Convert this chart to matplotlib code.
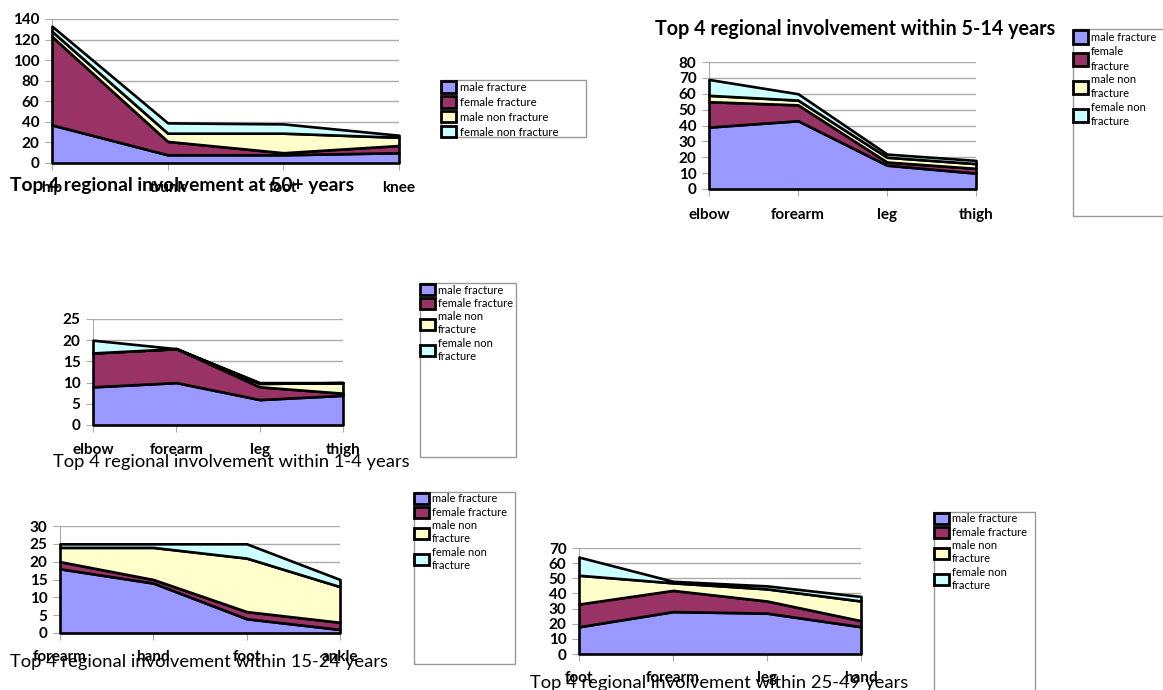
import matplotlib
matplotlib.use("Agg")
import matplotlib.pyplot as plt
from matplotlib.patches import Patch, Rectangle

plt.rcParams['font.family'] = ['Lato', 'DejaVu Sans']

W, H = 1163, 690

# data
series_names = ['male fracture', 'female fracture', 'male non fracture', 'female non fracture']
colors = ['#9999ff', '#993366', '#ffffcc', '#ccffff']

cats_50 = ['hip', 'trunk', 'foot', 'knee']
male_frac_50 = [37, 8, 8, 10]
female_frac_50 = [86, 13, 2, 7]
male_non_50 = [5, 8, 19, 8]
female_non_50 = [5, 10, 9, 2]

cats_5_14 = ['elbow', 'forearm', 'leg', 'thigh']
male_frac_5_14 = [39, 43, 15, 10]
female_frac_5_14 = [16, 10, 2, 3]
male_non_5_14 = [4, 3, 3, 3]
female_non_5_14 = [10, 4, 2, 2]

cats_1_4 = ['elbow', 'forearm', 'leg', 'thigh']
male_frac_1_4 = [9, 10, 6, 7]
female_frac_1_4 = [8, 8, 3, 0.5]
male_non_1_4 = [0, 0, 0.8, 2.5]
female_non_1_4 = [3, 0, 0.2, 0]

cats_15_24 = ['forearm', 'hand', 'foot', 'ankle']
male_frac_15_24 = [18, 14, 4, 1]
female_frac_15_24 = [2, 1, 2, 2]
male_non_15_24 = [4, 9, 15, 10]
female_non_15_24 = [1, 1, 4, 2]

cats_25_49 = ['foot', 'forearm', 'leg', 'hand']
male_frac_25_49 = [18, 28, 27, 18]
female_frac_25_49 = [15, 14, 8, 4]
male_non_25_49 = [19, 5, 8, 13]
female_non_25_49 = [12, 1, 2, 3]

fig = plt.figure(figsize=(W / 100, H / 100), dpi=100)


def fx(x):
    return x / W


def fy(y):
    return 1 - y / H


def panel(box, cats, data, ymax, ystep, xpad):
    x0, y0, x1, y1 = box
    ax = fig.add_axes([fx(x0), fy(y1), fx(x1 - x0), (y1 - y0) / H])
    xs = range(len(cats))
    ax.stackplot(xs, *data, colors=colors, edgecolor='black', linewidth=1.9,
                 clip_on=False, zorder=3)
    ax.set_xlim(0, len(cats) - 1)
    ax.set_ylim(0, ymax)
    ax.set_yticks(range(0, ymax + 1, ystep))
    ax.set_xticks(list(xs))
    ax.set_xticklabels(cats)
    ax.yaxis.grid(True, color='#ababab', lw=1)
    ax.set_axisbelow(True)
    for s in ['top', 'right']:
        ax.spines[s].set_visible(False)
    ax.spines['left'].set_color('#ababab')
    ax.spines['bottom'].set_color('#ababab')
    ax.tick_params(axis='y', colors='#ababab', labelcolor='black', length=5,
                   labelsize=11, pad=4)
    ax.tick_params(axis='x', colors='#ababab', labelcolor='black', length=5,
                   labelsize=11, pad=xpad)
    for t in ax.get_xticklabels() + ax.get_yticklabels():
        t.set_fontweight('bold')
    return ax


def legend(box, labels, fontsize=8, linespacing=1.25, labelspacing=0.2,
           handleheight=1.15):
    x0, y0, x1, y1 = box
    fig.add_artist(Rectangle((fx(x0), fy(y1)), fx(x1 - x0), (y1 - y0) / H,
                             transform=fig.transFigure, fill=False,
                             edgecolor='#999999', lw=1))
    handles = [Patch(facecolor=c, edgecolor='black', lw=2) for c in colors]
    leg = fig.legend(handles, labels, loc='upper left',
                     bbox_to_anchor=(fx(x0 - 2), fy(y0 - 1)),
                     frameon=False, fontsize=fontsize, handlelength=1.3,
                     handleheight=handleheight, handletextpad=0.3,
                     labelspacing=labelspacing, borderpad=0.2, borderaxespad=0)
    for t in leg.get_texts():
        t.set_linespacing(linespacing)


# 50+ years
panel((52, 19, 399, 163), cats_50,
      [male_frac_50, female_frac_50, male_non_50, female_non_50], 140, 20, 8)
fig.text(fx(10), fy(186), 'Top 4 regional involvement at 50+ years',
         fontsize=13.9, fontweight='bold', va='center', ha='left')
legend((441, 80, 586, 137), series_names, fontsize=8.2, labelspacing=0.3)

# 5-14 years
panel((709, 62, 976, 189), cats_5_14,
      [male_frac_5_14, female_frac_5_14, male_non_5_14, female_non_5_14], 80, 10, 9)
fig.text(fx(855), fy(29), 'Top 4 regional involvement within 5-14 years',
         fontsize=14.2, fontweight='bold', va='center', ha='center')
legend((1073, 29, 1175, 216),
       ['male fracture', 'female\nfracture', 'male non\nfracture', 'female non\nfracture'],
       fontsize=8, linespacing=1.4, labelspacing=0.2, handleheight=1.5)

# 1-4 years
panel((93, 319, 343, 425), cats_1_4,
      [male_frac_1_4, female_frac_1_4, male_non_1_4, female_non_1_4], 25, 5, 8)
fig.text(fx(53), fy(462), 'Top 4 regional involvement within 1-4 years',
         fontsize=13.2, va='center', ha='left')
legend((420, 283, 516, 457),
       ['male fracture', 'female fracture', 'male non\nfracture', 'female non\nfracture'])

# 15-24 years
panel((60, 526, 340, 633), cats_15_24,
      [male_frac_15_24, female_frac_15_24, male_non_15_24, female_non_15_24], 30, 5, 7)
fig.text(fx(10), fy(662), 'Top 4 regional involvement within 15-24 years',
         fontsize=13.2, va='center', ha='left')
legend((414, 492, 515, 664),
       ['male fracture', 'female fracture', 'male non\nfracture', 'female non\nfracture'])

# 25-49 years
panel((579, 548, 861, 654), cats_25_49,
      [male_frac_25_49, female_frac_25_49, male_non_25_49, female_non_25_49], 70, 10, 7)
fig.text(fx(530), fy(683), 'Top 4 regional involvement within 25-49 years',
         fontsize=13.2, va='center', ha='left')
legend((934, 512, 1035, 696),
       ['male fracture', 'female fracture', 'male non\nfracture', 'female non\nfracture'])

fig.savefig('out.png', dpi=100)
